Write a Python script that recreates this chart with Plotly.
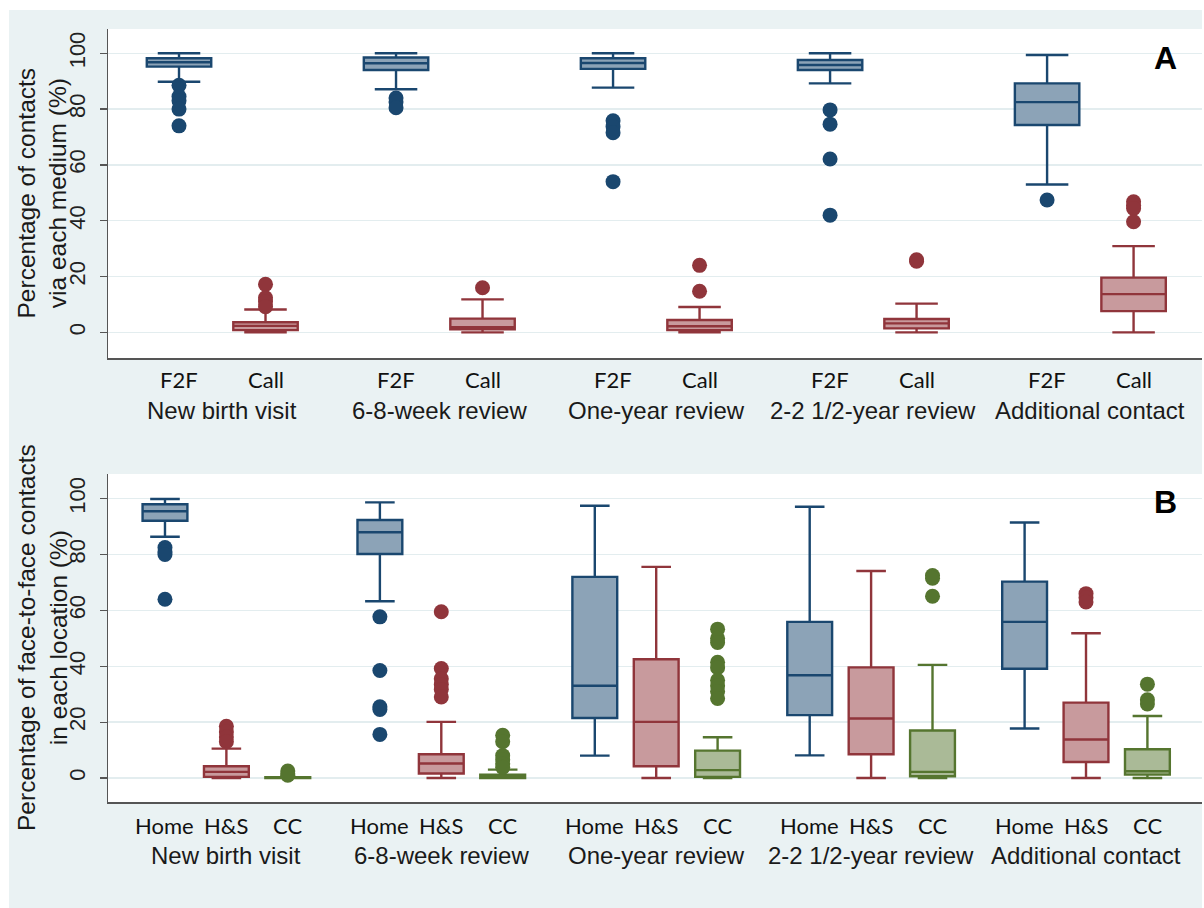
import plotly.graph_objects as go

# ---------------- data ----------------
visits = ["New birth visit", "6-8-week review", "One-year review",
          "2-2 1/2-year review", "Additional contact"]

# Panel A: medium (F2F / Call)
mediums = ["F2F", "Call"]
f2f_q1 = [95.2, 94.0, 94.4, 94.0, 74.3]
f2f_med = [96.8, 96.4, 96.5, 95.8, 82.5]
f2f_q3 = [98.2, 98.5, 98.2, 97.6, 89.2]
f2f_lo = [89.8, 87.1, 87.7, 89.2, 53.0]
f2f_hi = [100, 100, 100, 100, 99.4]
f2f_out = [[88.5, 84.5, 83, 80, 74], [84, 82.5, 80.5], [75.8, 73.7, 71.5, 54],
           [79.7, 74.6, 62.1, 42], [47.4]]

call_q1 = [0.8, 1.1, 0.8, 1.4, 7.6]
call_med = [2.3, 1.8, 2.2, 3.2, 13.7]
call_q3 = [3.6, 4.9, 4.4, 4.8, 19.6]
call_lo = [0, 0, 0, 0, 0]
call_hi = [8.2, 11.8, 9.1, 10.3, 30.9]
call_out = [[17.2, 12.4, 11, 9.2], [16], [24, 14.7], [25.5, 26],
            [46.8, 45.5, 44.4, 39.6]]

# Panel B: location (Home / H&S / CC)
locations = ["Home", "H&S", "CC"]
home_q1 = [92.1, 80.2, 21.5, 22.5, 39.1]
home_med = [95.5, 88.0, 33.0, 36.8, 55.9]
home_q3 = [98.0, 92.4, 72.0, 55.9, 70.3]
home_lo = [86.4, 63.3, 8.0, 8.1, 17.7]
home_hi = [99.9, 98.7, 97.5, 97.1, 91.5]
home_out = [[82.5, 81, 80, 64], [57.7, 38.5, 25.5, 24.5, 15.6], [], [], []]

hs_q1 = [0.4, 1.6, 4.2, 8.5, 5.7]
hs_med = [2.2, 5.2, 20.1, 21.3, 13.8]
hs_q3 = [4.2, 8.5, 42.5, 39.6, 27.0]
hs_lo = [0, 0, 0, 0, 0]
hs_hi = [10.5, 20.1, 75.6, 74.1, 51.8]
hs_out = [[18.5, 16.5, 14.7, 13], [59.5, 39.2, 35.5, 33.5, 31.7, 29], [], [],
          [66, 64.5, 63]]

cc_q1 = [0, 0, 0.4, 0.6, 1.2]
cc_med = [0, 0.4, 2.8, 2.2, 2.4]
cc_q3 = [0.3, 1.2, 9.8, 17.0, 10.3]
cc_lo = [0, 0, 0, 0, 0]
cc_hi = [0, 3.0, 14.6, 40.5, 22.2]
cc_out = [[2.5, 1.5, 1], [15.3, 13, 8, 6.5, 5, 3.8],
          [53.3, 50, 48.5, 41.4, 39.5, 35, 33, 31, 28.5],
          [72.5, 71.5, 65.1], [33.6, 28, 26.5]]

y_ticks = [0, 20, 40, 60, 80, 100]

# ---------------- styling ----------------
BLUE, BLUE_F = "#1A476F", "#8CA3B7"
RED, RED_F = "#90353B", "#C89A9D"
GREEN, GREEN_F = "#55752F", "#AABA97"
BG = "#EAF2F3"
W, H = 1204, 908

STEP_A, STEP_B = 2.509, 3.5
BOXW_A, BOXW_B = 0.745, 0.73

def pos(step, g, k):
    return g * step + k

fig = go.Figure()

def add_series(step, k, q1, med, q3, lo, hi, outs, color, fill, boxw, xa, ya, name):
    xs = [pos(step, g, k) for g in range(len(visits))]
    fig.add_trace(go.Box(
        x=xs, q1=q1, median=med, q3=q3, lowerfence=lo, upperfence=hi,
        width=boxw, whiskerwidth=0.66, fillcolor=fill,
        line=dict(color=color, width=2.4), boxpoints=False,
        xaxis=xa, yaxis=ya, name=name, showlegend=False))
    ox, oy = [], []
    for g, vals in enumerate(outs):
        for v in vals:
            ox.append(xs[g])
            oy.append(v)
    fig.add_trace(go.Scatter(
        x=ox, y=oy, mode="markers",
        marker=dict(color=color, size=15, line=dict(width=0)),
        xaxis=xa, yaxis=ya, showlegend=False, name=name))

add_series(STEP_A, 0, f2f_q1, f2f_med, f2f_q3, f2f_lo, f2f_hi, f2f_out, BLUE, BLUE_F, BOXW_A, "x", "y", "F2F")
add_series(STEP_A, 1, call_q1, call_med, call_q3, call_lo, call_hi, call_out, RED, RED_F, BOXW_A, "x", "y", "Call")
add_series(STEP_B, 0, home_q1, home_med, home_q3, home_lo, home_hi, home_out, BLUE, BLUE_F, BOXW_B, "x2", "y2", "Home")
add_series(STEP_B, 1, hs_q1, hs_med, hs_q3, hs_lo, hs_hi, hs_out, RED, RED_F, BOXW_B, "x2", "y2", "H&S")
add_series(STEP_B, 2, cc_q1, cc_med, cc_q3, cc_lo, cc_hi, cc_out, GREEN, GREEN_F, BOXW_B, "x2", "y2", "CC")

# ---------------- axes ----------------
xdom = [108 / W, 1202 / W]
def py(px):
    return 1 - px / H

axis_line = dict(showline=True, linecolor="#555555", linewidth=1.5)
ytick_font = dict(family="Liberation Sans, Arial", size=22, color="#222222")
fig.update_layout(
    xaxis=dict(domain=xdom, range=[-0.821, 11.827], showgrid=False, zeroline=False,
               showticklabels=False, ticks="", anchor="y", **axis_line),
    yaxis=dict(domain=[py(358), py(29)], range=[-9.2, 108.7], tickvals=y_ticks,
               ticks="outside", ticklen=7, tickcolor="#555555", tickwidth=1.2,
               tickangle=-90, tickfont=ytick_font, ticklabelstandoff=6,
               showgrid=True, gridcolor="#E3EDEF", gridwidth=1.5, zeroline=False,
               anchor="x", **axis_line),
    xaxis2=dict(domain=xdom, range=[-0.928, 16.889], showgrid=False, zeroline=False,
                showticklabels=False, ticks="", anchor="y2", **axis_line),
    yaxis2=dict(domain=[py(802), py(474)], range=[-8.6, 108.85], tickvals=y_ticks,
                ticks="outside", ticklen=7, tickcolor="#555555", tickwidth=1.2,
                tickangle=-90, tickfont=ytick_font, ticklabelstandoff=6,
                showgrid=True, gridcolor="#E3EDEF", gridwidth=1.5, zeroline=False,
                anchor="x2", **axis_line),
)

# ---------------- labels ----------------
ann = []
SUBFONT = dict(family="Lato, Open Sans", size=22, color="#111111")
GRPFONT = dict(family="Liberation Sans, Arial", size=24, color="#1a1a1a")
TITLEFONT = dict(family="Liberation Sans, Arial", size=24.5, color="#1a1a1a")
for g, v in enumerate(visits):
    for k, m in enumerate(mediums):
        ann.append(dict(x=pos(STEP_A, g, k), xref="x", y=py(379.5), yref="paper",
                        text=m, showarrow=False, font=SUBFONT, xanchor="center", yanchor="middle"))
    ann.append(dict(x=pos(STEP_A, g, 0.5), xref="x", y=py(410), yref="paper",
                    text=v, showarrow=False, font=GRPFONT, xanchor="center", yanchor="middle"))
    for k, m in enumerate(locations):
        ann.append(dict(x=pos(STEP_B, g, k), xref="x2", y=py(825.7), yref="paper",
                        text=m, showarrow=False, font=SUBFONT, xanchor="center", yanchor="middle"))
    ann.append(dict(x=pos(STEP_B, g, 1), xref="x2", y=py(855), yref="paper",
                    text=v, showarrow=False, font=GRPFONT, xanchor="center", yanchor="middle"))

ann.append(dict(x=42 / W, y=py(193.5), xref="paper", yref="paper", textangle=-90,
                text="Percentage of contacts<br>via each medium (%)", showarrow=False,
                font=TITLEFONT, xanchor="center", yanchor="middle"))
ann.append(dict(x=42 / W, y=py(638), xref="paper", yref="paper", textangle=-90,
                text="Percentage of face-to-face contacts<br>in each location (%)", showarrow=False,
                font=TITLEFONT, xanchor="center", yanchor="middle"))
ann.append(dict(x=1165 / W, y=py(58), xref="paper", yref="paper", text="<b>A</b>",
                showarrow=False, font=dict(family="Liberation Sans, Arial", size=32, color="black"),
                xanchor="center", yanchor="middle"))
ann.append(dict(x=1165 / W, y=py(502), xref="paper", yref="paper", text="<b>B</b>",
                showarrow=False, font=dict(family="Liberation Sans, Arial", size=32, color="black"),
                xanchor="center", yanchor="middle"))

shapes = [
    dict(type="rect", xref="paper", yref="paper", x0=0, x1=1, y0=py(10), y1=1,
         fillcolor="white", line=dict(width=0), layer="below"),
    dict(type="rect", xref="paper", yref="paper", x0=0, x1=9 / W, y0=0, y1=1,
         fillcolor="white", line=dict(width=0), layer="below"),
    dict(type="rect", xref="paper", yref="paper", x0=1202 / W, x1=1, y0=0, y1=1,
         fillcolor="white", line=dict(width=0), layer="below"),
]

fig.update_layout(
    width=W, height=H, autosize=False,
    margin=dict(l=0, r=0, t=0, b=0),
    paper_bgcolor=BG, plot_bgcolor="white",
    annotations=ann, shapes=shapes, showlegend=False, boxmode="overlay",
    hovermode=False,
)

fig.write_html("out.html", config={"displayModeBar": False, "staticPlot": True},
               post_script="document.body.style.margin='0px';document.body.style.overflow='hidden';")
